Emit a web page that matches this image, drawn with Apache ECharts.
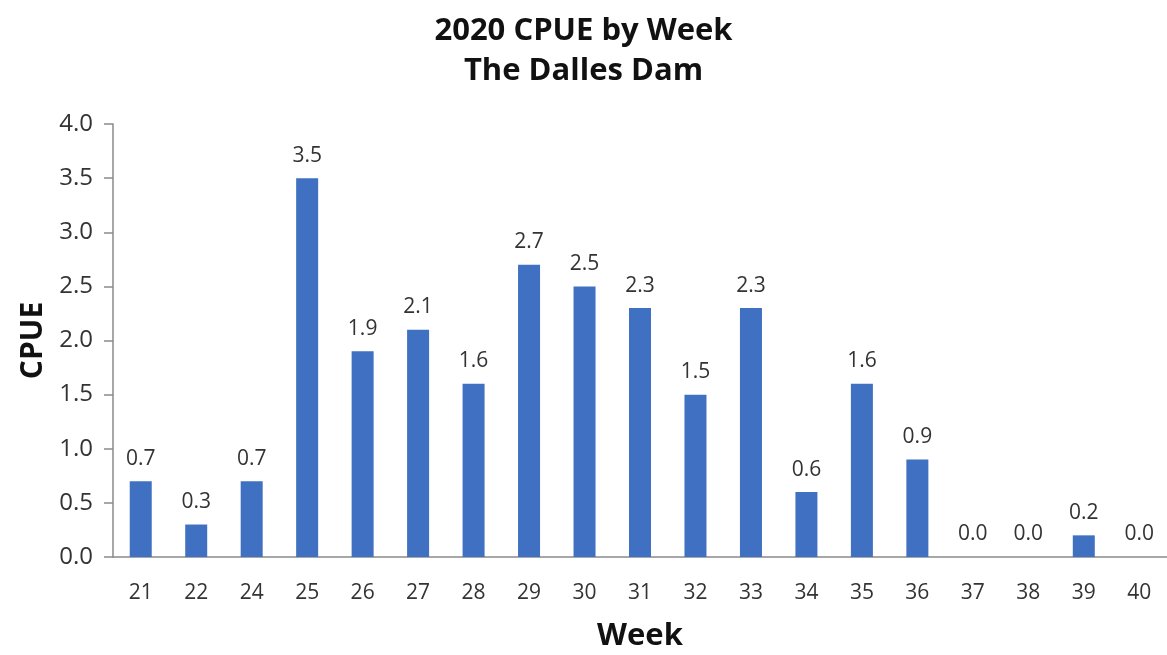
<!DOCTYPE html>
<html>
<head>
<meta charset="utf-8">
<script src="https://cdn.jsdelivr.net/npm/echarts@6/dist/echarts.min.js"></script>
<style>
  html, body { margin: 0; padding: 0; background: #ffffff; }
  #chart { width: 1167px; height: 655px; }
</style>
</head>
<body>
<div id="chart"></div>
<script>
// Weekly catch per unit effort at The Dalles Dam, 2020
const weeks = ['21', '22', '24', '25', '26', '27', '28', '29', '30', '31', '32', '33', '34', '35', '36', '37', '38', '39', '40'];
const cpue = [0.7, 0.3, 0.7, 3.5, 1.9, 2.1, 1.6, 2.7, 2.5, 2.3, 1.5, 2.3, 0.6, 1.6, 0.9, 0.0, 0.0, 0.2, 0.0];
const titleLines = ['2020 CPUE by Week', 'The Dalles Dam'];

const FONT = '"Open Sans", "DejaVu Sans", sans-serif';
const chart = echarts.init(document.getElementById('chart'), null, { renderer: 'canvas' });

chart.setOption({
  backgroundColor: '#ffffff',
  animation: false,
  title: {
    text: titleLines.join('\n'),
    left: 'center',
    top: 6,
    textStyle: {
      fontFamily: FONT,
      fontWeight: 'bold',
      fontSize: 31,
      lineHeight: 40,
      color: '#111111'
    }
  },
  grid: {
    left: 113,
    right: 0,
    top: 124,
    bottom: 98,
    outerBoundsMode: 'none'
  },
  xAxis: {
    type: 'category',
    data: weeks,
    name: 'Week',
    nameLocation: 'middle',
    nameGap: 64,
    nameTextStyle: { fontFamily: FONT, fontWeight: 'bold', fontSize: 31, color: '#111111' },
    axisLine: { lineStyle: { color: '#8a8a8a', width: 1.5 } },
    axisTick: { show: false },
    axisLabel: { fontFamily: FONT, fontSize: 21, color: '#333333', margin: 26 }
  },
  yAxis: {
    type: 'value',
    min: 0,
    max: 4,
    interval: 0.5,
    name: 'CPUE',
    nameLocation: 'middle',
    nameGap: 61,
    nameTextStyle: { fontFamily: FONT, fontWeight: 'bold', fontSize: 30, color: '#111111' },
    axisLine: { show: true, lineStyle: { color: '#8a8a8a', width: 1.5 } },
    axisTick: { show: true, length: 9, lineStyle: { color: '#8a8a8a', width: 1.5 } },
    splitLine: { show: false },
    axisLabel: {
      fontFamily: FONT,
      fontSize: 24,
      color: '#333333',
      margin: 20,
      formatter: v => v.toFixed(1)
    }
  },
  series: [{
    type: 'bar',
    data: cpue,
    barWidth: 22,
    itemStyle: { color: '#3f70c1' },
    label: {
      show: true,
      position: 'top',
      distance: 12,
      fontFamily: FONT,
      fontSize: 21,
      color: '#333333',
      formatter: p => p.value.toFixed(1)
    }
  }]
});
</script>
</body>
</html>
